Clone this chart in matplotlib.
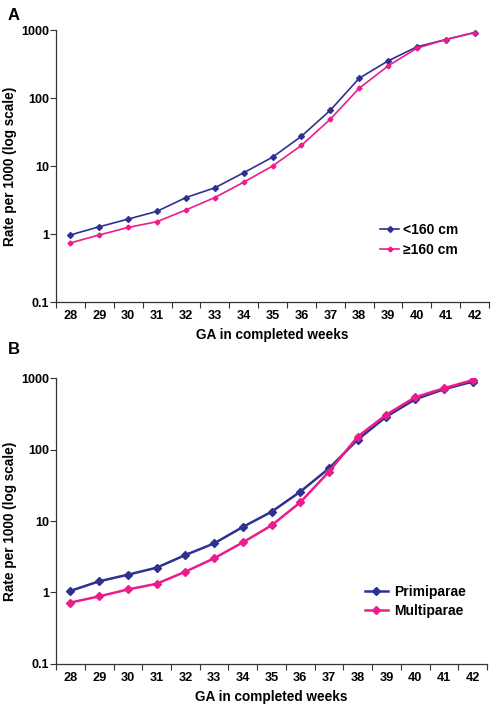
import numpy as np
import matplotlib
matplotlib.use('Agg')
import matplotlib.pyplot as plt

plt.rcParams['font.family'] = ['Liberation Sans', 'DejaVu Sans']
plt.rcParams['font.weight'] = 'bold'

weeks = ['28', '29', '30', '31', '32', '33', '34', '35', '36', '37', '38', '39', '40', '41', '42']

# Panel A: by maternal height
short_mothers = [0.97, 1.28, 1.66, 2.16, 3.44, 4.78, 7.96, 13.5, 27.4, 66, 195, 351, 565, 724, 918]
tall_mothers = [0.74, 0.97, 1.25, 1.52, 2.26, 3.44, 5.78, 10.0, 20.1, 48.8, 139, 296, 540, 724, 918]

# Panel B: by parity
primiparae = [1.05, 1.43, 1.77, 2.22, 3.34, 4.86, 8.26, 13.5, 25.8, 54.8, 139, 292, 510, 705, 901]
multiparae = [0.72, 0.88, 1.10, 1.32, 1.95, 3.0, 5.02, 8.7, 18.3, 49.3, 153, 311, 545, 728, 946]

blue = '#2e3192'
pink = '#ec1c8c'

fig = plt.figure(figsize=(4.96, 7.11), dpi=100)
axA = fig.add_axes([0.113, 0.5752, 0.873, 0.3826])
axB = fig.add_axes([0.113, 0.0665, 0.869, 0.4013])


def style_axis(ax):
    x = np.arange(len(weeks))
    ax.set_yscale('log')
    ax.set_ylim(0.1, 1000)
    ax.set_yticks([0.1, 1, 10, 100, 1000])
    ax.set_yticklabels(['0.1', '1', '10', '100', '1000'])
    ax.yaxis.set_minor_locator(matplotlib.ticker.NullLocator())
    ax.set_xlim(-0.5, len(weeks) - 0.5)
    # tick marks sit between the categories, labels at the centres
    ax.set_xticks(np.arange(-0.5, len(weeks), 1.0))
    ax.set_xticklabels([])
    ax.set_xticks(x, minor=True)
    ax.set_xticklabels(weeks, minor=True)
    ax.tick_params(axis='x', which='major', direction='out', length=4, width=0.8, color='#333333')
    ax.tick_params(axis='x', which='minor', length=0, pad=6, labelsize=9.2)
    ax.tick_params(axis='y', which='major', direction='out', length=4, width=0.8,
                   labelsize=9, color='#333333', pad=1)
    for s in ['top', 'right']:
        ax.spines[s].set_visible(False)
    for s in ['left', 'bottom']:
        ax.spines[s].set_linewidth(0.9)
        ax.spines[s].set_color('#333333')
    ax.set_ylabel('Rate per 1000 (log scale)', fontsize=9.8, fontweight='bold', labelpad=3)
    ax.set_xlabel('GA in completed weeks', fontsize=9.8, fontweight='bold', labelpad=4)
    return x


x = style_axis(axA)
axA.plot(x, short_mothers, color=blue, marker='D', markersize=3, lw=1.2, label='<160 cm')
axA.plot(x, tall_mothers, color=pink, marker='D', markersize=2.5, lw=1.2, label='≥160 cm')
axA.legend(loc='upper left', bbox_to_anchor=(0.735, 0.312), frameon=False, fontsize=10,
           handlelength=1.4, handletextpad=0.3, labelspacing=0.45, borderaxespad=0)

x = style_axis(axB)
axB.plot(x, primiparae, color=blue, marker='D', markersize=4.5, lw=1.8, label='Primiparae')
axB.plot(x, multiparae, color=pink, marker='D', markersize=4.5, lw=1.8, label='Multiparae')
axB.legend(loc='upper left', bbox_to_anchor=(0.703, 0.297), frameon=False, fontsize=10,
           handlelength=1.7, handletextpad=0.4, labelspacing=0.4, borderaxespad=0)

fig.text(8 / 496, 1 - 15 / 711, 'A', fontsize=12, fontweight='bold', va='center', ha='left')
fig.text(8 / 496, 1 - 350 / 711, 'B', fontsize=12, fontweight='bold', va='center', ha='left')

fig.savefig('out.png', dpi=100)
